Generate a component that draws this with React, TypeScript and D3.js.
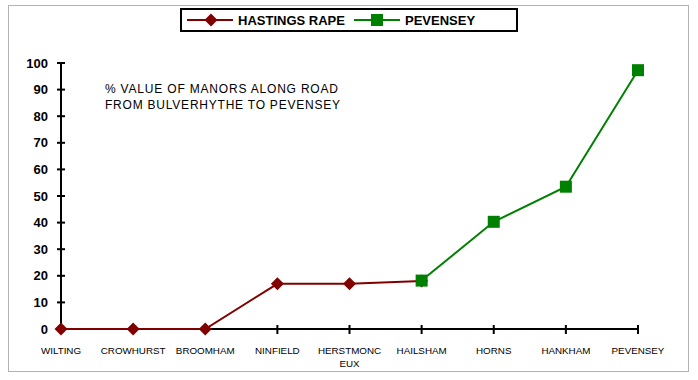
import React from "react";
import * as d3 from "d3";

const categories = ["WILTING", "CROWHURST", "BROOMHAM", "NINFIELD", "HERSTMONCEUX", "HAILSHAM", "HORNS", "HANKHAM", "PEVENSEY"];
const categoryLines: string[][] = [["WILTING"], ["CROWHURST"], ["BROOMHAM"], ["NINFIELD"], ["HERSTMONC", "EUX"], ["HAILSHAM"], ["HORNS"], ["HANKHAM"], ["PEVENSEY"]];
const hastingsValues: (number | null)[] = [0, 0, 0, 17, 17, 18, null, null, null];
const pevenseyValues: (number | null)[] = [null, null, null, null, null, 18.2, 40.3, 53.5, 97.3];
const yTicks = [0, 10, 20, 30, 40, 50, 60, 70, 80, 90, 100];
const seriesNames = ["HASTINGS RAPE", "PEVENSEY"];
const noteLines = ["% VALUE OF MANORS ALONG ROAD", "FROM BULVERHYTHE TO PEVENSEY"];

const RED = "#800000";
const GREEN = "#008000";

export default function App() {
  const x = d3.scalePoint<string>().domain(categories).range([61, 638]);
  const y = d3.scaleLinear().domain([0, 100]).range([329, 63]);

  const line = d3
    .line<number | null>()
    .defined((d) => d !== null)
    .x((_, i) => x(categories[i]) as number)
    .y((d) => y(d as number));

  const diamond = (cx: number, cy: number, r = 6.5) =>
    `M${cx},${cy - r}L${cx + r},${cy}L${cx},${cy + r}L${cx - r},${cy}Z`;

  const sans = "'Liberation Sans', Arial, sans-serif";

  return (
    <svg
      width={698}
      height={380}
      style={{ position: "absolute", left: 0, top: 0, background: "#fff" }}
    >
      <rect x={0} y={0} width={698} height={380} fill="#fff" />
      <rect x={8.5} y={5.5} width={680} height={366} fill="none" stroke="#666" strokeWidth={1} strokeDasharray="1,1" />

      {/* Legend */}
      <rect x={181} y={9} width={336} height={22} fill="#fff" stroke="#000" strokeWidth={2} />
      <line x1={187} x2={233} y1={20} y2={20} stroke={RED} strokeWidth={2} />
      <path d={diamond(211, 20)} fill={RED} />
      <text x={238} y={25} fontFamily={sans} fontWeight="bold" fontSize={13} fill="#000">{seriesNames[0]}</text>
      <line x1={354} x2={400} y1={20} y2={20} stroke={GREEN} strokeWidth={2} />
      <rect x={371} y={14} width={12} height={12} fill={GREEN} />
      <text x={405} y={25} fontFamily={sans} fontWeight="bold" fontSize={13} fill="#000">{seriesNames[1]}</text>

      {/* Annotation */}
      {noteLines.map((t, i) => (
        <text key={t} x={105} y={93 + i * 16} fontFamily={sans} fontSize={12} textLength={i === 0 ? 233 : 235} lengthAdjust="spacing" fill="#000">{t}</text>
      ))}

      {/* Y axis */}
      <line x1={61} x2={61} y1={y(100)} y2={y(0)} stroke="#000" strokeWidth={2} />
      {yTicks.map((t) => (
        <g key={t}>
          <line x1={57} x2={65} y1={y(t)} y2={y(t)} stroke="#000" strokeWidth={2} />
          <text x={48} y={y(t) + 4.5} textAnchor="end" fontFamily={sans} fontWeight="bold" fontSize={13} fill="#000">{t}</text>
        </g>
      ))}

      {/* X axis */}
      <line x1={61} x2={638} y1={y(0)} y2={y(0)} stroke="#000" strokeWidth={2} />
      {categories.map((c, i) => (
        <g key={c}>
          <line x1={x(c)} x2={x(c)} y1={y(0) - 4} y2={y(0) + 5} stroke="#000" strokeWidth={2} />
          {categoryLines[i].map((l, j) => (
            <text key={l} x={x(c)} y={354 + j * 13} textAnchor="middle" fontFamily={sans} fontSize={9.8} fill="#000">{l}</text>
          ))}
        </g>
      ))}

      {/* Series */}
      <path d={line(hastingsValues) || ""} fill="none" stroke={RED} strokeWidth={2} />
      <path d={line(pevenseyValues) || ""} fill="none" stroke={GREEN} strokeWidth={2} />
      {hastingsValues.map((v, i) =>
        v === null ? null : <path key={"h" + i} d={diamond(x(categories[i]) as number, y(v))} fill={RED} />
      )}
      {pevenseyValues.map((v, i) =>
        v === null ? null : (
          <rect key={"p" + i} x={(x(categories[i]) as number) - 6} y={y(v) - 6} width={12} height={12} fill={GREEN} />
        )
      )}
    </svg>
  );
}
